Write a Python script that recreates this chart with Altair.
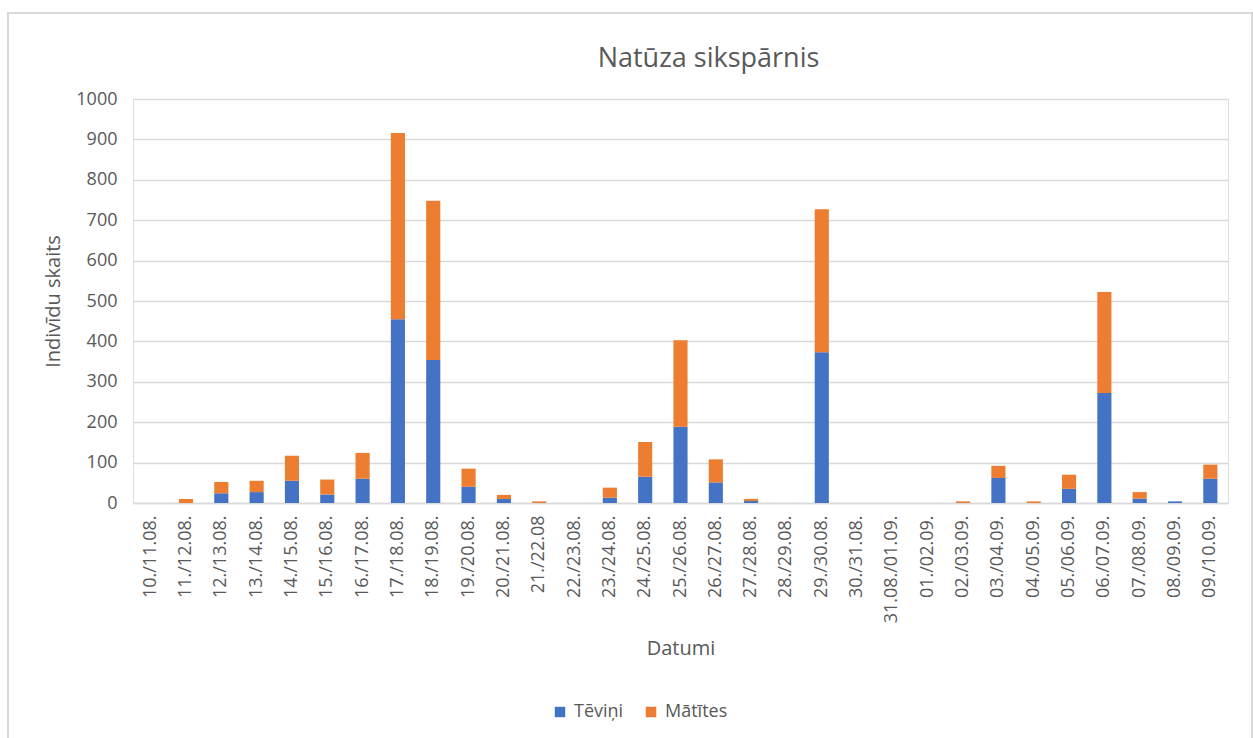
import altair as alt
import pandas as pd

# Nightly counts of Nathusius' pipistrelle, split by sex
dates = [
    "10./11.08.", "11./12.08.", "12./13.08.", "13./14.08.", "14./15.08.",
    "15./16.08.", "16./17.08.", "17./18.08.", "18./19.08.", "19./20.08.",
    "20./21.08.", "21./22.08", "22./23.08.", "23./24.08.", "24./25.08.",
    "25./26.08.", "26./27.08.", "27./28.08.", "28./29.08.", "29./30.08.",
    "30./31.08.", "31.08./01.09.", "01./02.09.", "02./03.09.", "03./04.09.",
    "04./05.09.", "05./06.09.", "06./07.09.", "07./08.09.", "08./09.09.",
    "09./10.09.",
]
males = [0, 0, 24, 27, 55, 21, 60, 455, 354, 40,
         10, 0, 0, 13, 65, 189, 51, 5, 0, 373,
         0, 0, 0, 0, 62, 0, 35, 272, 11, 4,
         60]
females = [0, 10, 28, 28, 62, 37, 64, 461, 394, 45,
           10, 4, 0, 25, 86, 214, 57, 5, 0, 354,
           0, 0, 0, 4, 30, 4, 35, 250, 16, 0,
           35]
series = ["Tēviņi", "Mātītes"]
colors = ["#4472C4", "#ED7D31"]
chart_title = "Natūza sikspārnis"

rows = []
for d, m, f in zip(dates, males, females):
    rows.append({"Datums": d, "Dzimums": series[0], "Skaits": m, "kart": 0})
    rows.append({"Datums": d, "Dzimums": series[1], "Skaits": f, "kart": 1})
df = pd.DataFrame(rows)

W, H = 1095, 404
FONT = "Open Sans"
GREY = "#595959"
LINE = "#d9d9d9"

bars = alt.Chart(df).mark_bar().encode(
    x=alt.X(
        "Datums:N",
        sort=dates,
        title="Datumi",
        scale=alt.Scale(paddingInner=0.6, paddingOuter=0.3),
        axis=alt.Axis(
            labelAngle=-90, labelFontSize=18, labelColor=GREY, labelFont=FONT,
            labelPadding=12, ticks=False, domainColor=LINE, domainWidth=1.5,
            titleFontSize=20, titleFont=FONT, titleColor=GREY,
            titleFontWeight="normal", titlePadding=16, labelOverlap=False,
        ),
    ),
    y=alt.Y(
        "Skaits:Q",
        stack="zero",
        title="Indivīdu skaits",
        scale=alt.Scale(domain=[0, 1000], nice=False),
        axis=alt.Axis(
            values=list(range(0, 1001, 100)), format="d", domain=False,
            ticks=False, labelFontSize=18, labelColor=GREY, labelFont=FONT,
            labelPadding=16, gridColor=LINE, gridWidth=1.5,
            titleFontSize=20, titleFont=FONT, titleColor=GREY,
            titleFontWeight="normal", titlePadding=12,
        ),
    ),
    color=alt.Color(
        "Dzimums:N",
        scale=alt.Scale(domain=series, range=colors),
        legend=alt.Legend(
            title=None, orient="none", direction="horizontal",
            legendX=418, legendY=604, symbolType="square", symbolSize=110,
            symbolStrokeWidth=0, labelFontSize=18, labelFont=FONT,
            labelColor=GREY, columnPadding=18, labelOffset=5,
        ),
    ),
    order=alt.Order("kart:Q", sort="ascending"),
)

# Light outline around the whole chart area
frame = alt.Chart(df).mark_rect(
    fill=None, stroke=LINE, strokeWidth=1.5, clip=False
).encode(
    x=alt.value(-125), x2=alt.value(1119),
    y=alt.value(-86), y2=alt.value(645),
)

# Chart heading, centred a little right of the plot's middle
heading = alt.Chart(pd.DataFrame({"t": [chart_title]})).mark_text(
    font=FONT, fontSize=27, color=GREY, baseline="alphabetic", align="center"
).encode(
    text="t:N", x=alt.value(W / 2 + 28), y=alt.value(-32),
)

chart = alt.layer(frame, bars, heading).properties(
    width=W,
    height=H,
    padding={"left": 133, "top": 99, "right": 25, "bottom": 235},
    autosize=alt.AutoSizeParams(type="none"),
).configure_view(stroke=None).configure(background="white")

chart.save("out.html", embed_options={"renderer": "svg", "actions": False})
